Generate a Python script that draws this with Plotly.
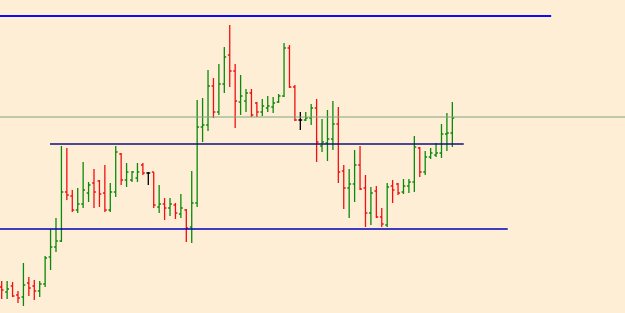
import plotly.graph_objects as go

# OHLC values (price units), one bar per period
opens = [26,21,27,18,16,30,27,22,29,56,66,72,121,117,103,109,120,130,132,120,
         103,121,159,133,133,135,148,140,141,106,109,105,108,99,103,86,110,186,188,227,
         201,229,258,242,211,212,220,210,201,205,206,211,217,265,226,193,193,195,205,167,
         170,174,189,142,125,129,148,125,100,122,96,88,127,129,121,127,131,165,141,156,
         158,160,179,180]
highs = [32,32,31,22,50,36,33,32,57,84,95,167,165,123,125,151,131,144,133,148,
         130,167,160,150,142,150,150,141,141,128,115,115,110,119,104,142,213,215,243,235,
         249,266,288,249,238,224,224,211,214,217,216,219,270,268,228,201,201,209,214,194,
         203,212,206,148,144,163,167,138,126,127,105,130,133,130,134,134,177,166,162,165,
         170,189,200,211]
lows = [14,14,16,10,7,17,13,16,26,43,61,71,113,101,100,105,111,105,106,101,
        101,116,128,126,131,131,138,128,105,100,93,97,94,95,71,70,106,171,182,195,
        198,220,226,185,198,201,196,196,197,201,200,210,216,225,192,183,192,188,151,161,
        152,163,130,104,95,111,123,86,88,95,86,86,110,118,119,120,121,136,138,154,
        156,155,162,166]
closes = [23,24,17,15,28,25,22,29,55,66,72,121,118,103,109,123,128,121,119,103,
          121,161,133,141,141,141,140,140,108,109,105,109,100,105,85,110,186,188,227,201,
          229,256,242,212,217,220,198,201,207,207,210,217,265,226,193,193,195,205,171,171,
          174,189,141,125,129,148,124,100,120,96,89,126,123,120,127,131,166,141,156,160,
          160,179,180,195]

# horizontal levels: value, first bar index, last bar index
level_values = [297, 196, 169, 84]
level_starts = [-1, -1, 8.9, -1]
level_ends = [101.2, 116, 85.1, 93.2]
level_colors = ["#0a0aff", "#7fa47f", "#10107a", "#0000b8"]
level_widths = [2, 1, 1.3, 1.6]

idx = list(range(len(opens)))
doji = [o == c for o, c in zip(opens, closes)]

fig = go.Figure()
for v, s, e, col, w in zip(level_values, level_starts, level_ends, level_colors, level_widths):
    fig.add_trace(go.Scatter(x=[s, e], y=[v, v], mode="lines",
                             line=dict(color=col, width=w), hoverinfo="skip"))

nd = [i for i in idx if not doji[i]]
fig.add_trace(go.Ohlc(
    x=nd, open=[opens[i] for i in nd], high=[highs[i] for i in nd],
    low=[lows[i] for i in nd], close=[closes[i] for i in nd],
    increasing=dict(line=dict(color="#0a8a0a", width=1.3)),
    decreasing=dict(line=dict(color="#f01010", width=1.3)),
    tickwidth=0.35))
dj = [i for i in idx if doji[i]]
fig.add_trace(go.Ohlc(
    x=dj, open=[opens[i] for i in dj], high=[highs[i] for i in dj],
    low=[lows[i] for i in dj], close=[closes[i] for i in dj],
    increasing=dict(line=dict(color="#000000", width=1.3)),
    decreasing=dict(line=dict(color="#000000", width=1.3)),
    tickwidth=0.35))

fig.update_layout(
    width=625, height=313,
    margin=dict(l=0, r=0, t=0, b=0),
    paper_bgcolor="#FFEED6", plot_bgcolor="#FFEED6",
    showlegend=False,
    xaxis=dict(range=[-0.313, 114.8], visible=False, rangeslider=dict(visible=False),
               fixedrange=True),
    yaxis=dict(range=[0, 313], visible=False, fixedrange=True),
)
fig.write_html("out.html")
